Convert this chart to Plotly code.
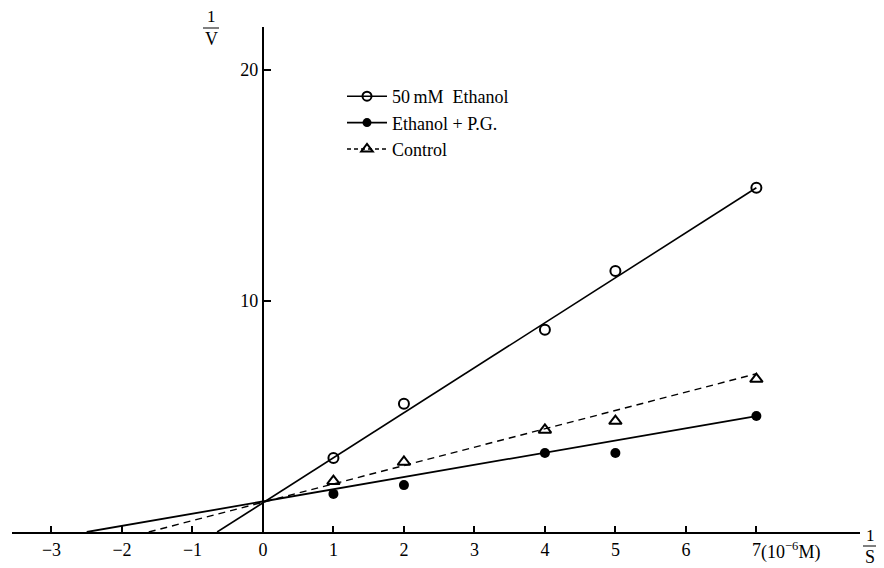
import plotly.graph_objects as go

# ---- data ----
s_inv = [1, 2, 4, 5, 7]                      # 1/S  (10^-6 M)^-1
ethanol_v = [3.2, 5.55, 8.75, 11.3, 14.9]    # 50 mM Ethanol, 1/V
pg_v = [1.65, 2.03, 3.42, 3.42, 5.02]        # Ethanol + P.G., 1/V
control_v = [2.2, 3.03, 4.42, 4.8, 6.62]     # Control, 1/V

# fitted lines (start on the 1/S axis, end at 1/S = 7)
eth_fit_x, eth_fit_y = [-0.65, 7.0], [0.0, 14.9]
pg_fit_x, pg_fit_y = [-2.5, 7.0], [0.0, 5.02]
ctl_fit_x, ctl_fit_y = [-1.62, 7.0], [0.0, 6.85]

x_tickvals = [-3, -2, -1, 0, 1, 2, 3, 4, 5, 6, 7]
x_ticktext = ["\u22123", "\u22122", "\u22121", "0", "1", "2", "3", "4", "5", "6", "7"]
y_tickvals = [10, 20]
y_ticktext = ["10", "20"]

names = ["50\u2009mM  Ethanol", "Ethanol + P.G.", "Control"]

x_range = [-3.56, 8.47]
y_range = [0, 21.86]

FONT = "'Liberation Serif', 'Times New Roman', serif"
W, H = 884, 568
OFF = 8  # page body margin of the browser
ML, MR, MT, MB = 12, 24, 27, 36  # wanted plot-area edges on screen
PW, PH = W - ML - MR, H - MT - MB


def px_x(p):
    return (p - ML) / PW


def px_y(p):
    return (H - MB - p) / PH


fig = go.Figure()

# fit lines
fig.add_trace(go.Scatter(x=eth_fit_x, y=eth_fit_y, mode="lines",
                         line=dict(color="black", width=1.6), showlegend=False))
fig.add_trace(go.Scatter(x=pg_fit_x, y=pg_fit_y, mode="lines",
                         line=dict(color="black", width=1.8), showlegend=False))
fig.add_trace(go.Scatter(x=ctl_fit_x, y=ctl_fit_y, mode="lines",
                         line=dict(color="black", width=1.4, dash="7px,5px"), showlegend=False))

# data points
fig.add_trace(go.Scatter(x=s_inv, y=ethanol_v, mode="markers", showlegend=False,
                         marker=dict(symbol="circle-open", size=10, color="black",
                                     line=dict(width=2, color="black"))))
fig.add_trace(go.Scatter(x=s_inv, y=pg_v, mode="markers", showlegend=False,
                         marker=dict(symbol="circle", size=10, color="black")))
fig.add_trace(go.Scatter(x=s_inv, y=control_v, mode="markers", showlegend=False,
                         marker=dict(symbol="triangle-up-open", size=11, color="black",
                                     line=dict(width=2, color="black"))))

# legend entries
fig.add_trace(go.Scatter(x=[None], y=[None], mode="lines+markers", name=names[0],
                         line=dict(color="black", width=1.6),
                         marker=dict(symbol="circle-open", size=9, color="black",
                                     line=dict(width=2, color="black"))))
fig.add_trace(go.Scatter(x=[None], y=[None], mode="lines+markers", name=names[1],
                         line=dict(color="black", width=1.6),
                         marker=dict(symbol="circle", size=9, color="black")))
fig.add_trace(go.Scatter(x=[None], y=[None], mode="lines+markers", name=names[2],
                         line=dict(color="black", width=1.4, dash="4px,3px"),
                         marker=dict(symbol="triangle-up-open", size=10, color="black",
                                     line=dict(width=2, color="black"))))

y_axis_pos = (0 - x_range[0]) / (x_range[1] - x_range[0])

fig.update_layout(
    width=W - OFF, height=H - OFF,
    margin=dict(l=ML - OFF, r=MR, t=MT - OFF, b=MB),
    paper_bgcolor="white", plot_bgcolor="white",
    font=dict(family=FONT, size=18, color="black"),
    showlegend=True,
    legend=dict(x=px_x(342), y=px_y(78), xanchor="left", yanchor="top",
                bgcolor="rgba(0,0,0,0)", font=dict(family=FONT, size=18, color="black"),
                itemwidth=40, tracegroupgap=2),
    xaxis=dict(range=x_range, tickvals=x_tickvals, ticktext=x_ticktext,
               showgrid=False, zeroline=False, showline=True, linecolor="black",
               linewidth=2, ticks="inside", ticklen=6, tickwidth=1.5, tickcolor="black",
               tickfont=dict(family=FONT, size=18, color="black")),
    yaxis=dict(range=y_range, tickvals=y_tickvals, ticktext=y_ticktext,
               showgrid=False, zeroline=False, showline=True, linecolor="black",
               linewidth=2, ticks="inside", ticklen=7, tickwidth=1.5, tickcolor="black",
               anchor="free", position=y_axis_pos,
               tickfont=dict(family=FONT, size=18, color="black")),
)

ann = []
# unit after the last tick label
ann.append(dict(x=7, y=px_y(551), xref="x", yref="paper", text="(10<sup>\u22126</sup>M)",
                showarrow=False, xanchor="left", yanchor="middle", xshift=3,
                font=dict(family=FONT, size=18, color="black")))
# 1/V fraction
ann.append(dict(x=px_x(211), y=px_y(17), xref="paper", yref="paper", text="1",
                showarrow=False, xanchor="center", yanchor="middle",
                font=dict(family=FONT, size=17, color="black")))
ann.append(dict(x=px_x(211), y=px_y(39), xref="paper", yref="paper", text="V",
                showarrow=False, xanchor="center", yanchor="middle",
                font=dict(family=FONT, size=18, color="black")))
# 1/S fraction
ann.append(dict(x=px_x(870), y=px_y(535), xref="paper", yref="paper", text="1",
                showarrow=False, xanchor="center", yanchor="middle",
                font=dict(family=FONT, size=17, color="black")))
ann.append(dict(x=px_x(870), y=px_y(557), xref="paper", yref="paper", text="S",
                showarrow=False, xanchor="center", yanchor="middle",
                font=dict(family=FONT, size=18, color="black")))
fig.update_layout(annotations=ann)

fig.add_shape(type="line", xref="paper", yref="paper",
              x0=px_x(203), x1=px_x(219), y0=px_y(28), y1=px_y(28),
              line=dict(color="black", width=1))
fig.add_shape(type="line", xref="paper", yref="paper",
              x0=px_x(863), x1=px_x(877), y0=px_y(546), y1=px_y(546),
              line=dict(color="black", width=1))

fig.write_html("out.html")
